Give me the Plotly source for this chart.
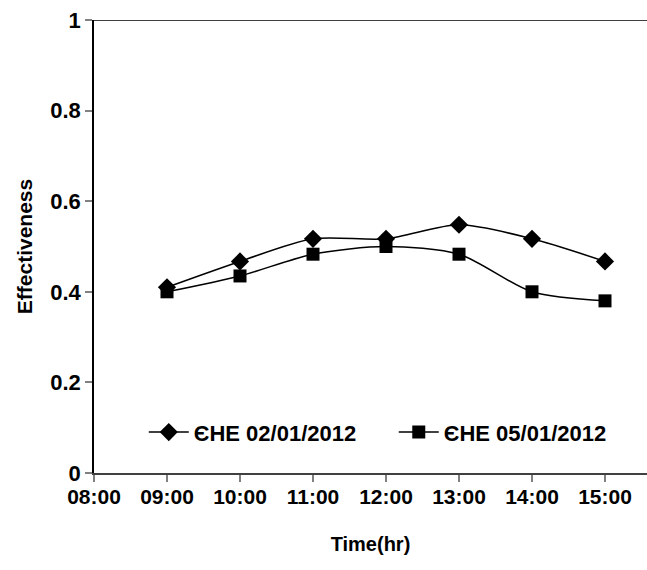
import plotly.graph_objects as go

# Hours of the day (08:00 .. 15:00) and measured effectiveness
hours = [9, 10, 11, 12, 13, 14, 15]
tick_hours = [8, 9, 10, 11, 12, 13, 14, 15]
tick_labels = ["08:00", "09:00", "10:00", "11:00", "12:00", "13:00", "14:00", "15:00"]
y_ticks = [0, 0.2, 0.4, 0.6, 0.8, 1]
y_tick_labels = ["0", "0.2", "0.4", "0.6", "0.8", "1"]

che_0201 = [0.41, 0.467, 0.517, 0.517, 0.548, 0.517, 0.467]
che_0501 = [0.40, 0.435, 0.483, 0.50, 0.483, 0.40, 0.38]

name_0201 = "ЄHE 02/01/2012"
name_0501 = "ЄHE 05/01/2012"

FONT = "Liberation Sans, Arial, sans-serif"


def bold(s):
    return "<b>%s</b>" % s


fig = go.Figure()
fig.add_trace(go.Scatter(
    x=hours, y=che_0201, name=bold(name_0201), mode="lines+markers",
    line=dict(color="black", width=1.5, shape="spline", smoothing=0.8),
    marker=dict(symbol="diamond", size=14, color="black"),
))
fig.add_trace(go.Scatter(
    x=hours, y=che_0501, name=bold(name_0501), mode="lines+markers",
    line=dict(color="black", width=1.5, shape="spline", smoothing=0.8),
    marker=dict(symbol="square", size=13, color="black"),
))

# top border of the plot area
fig.add_shape(type="line", xref="paper", yref="y", x0=0, x1=1, y0=1, y1=1,
              line=dict(color="black", width=1.5))

fig.update_layout(
    width=647, height=570,
    margin=dict(l=94, r=0, t=20, b=97),
    plot_bgcolor="white", paper_bgcolor="white",
    font=dict(family=FONT, size=21, color="black"),
    showlegend=True,
    legend=dict(
        orientation="h", x=0.09, xanchor="left", y=0.09, yanchor="middle",
        bgcolor="rgba(0,0,0,0)", font=dict(family=FONT, size=22, color="black"),
        entrywidth=195, itemwidth=40,
    ),
)

fig.update_xaxes(
    range=[8, 8 + 553 / 73], tickmode="array", tickvals=tick_hours,
    ticktext=[bold(t) for t in tick_labels],
    showgrid=False, zeroline=False, showline=True, linecolor="#404040", linewidth=1.5,
    ticks="outside", ticklen=7, tickcolor="#808080", tickwidth=1.5,
    ticklabelstandoff=-3,
    tickfont=dict(family=FONT, size=21, color="black"),
    title=dict(text=bold("Time(hr)"), font=dict(family=FONT, size=20, color="black"), standoff=30),
)
fig.update_yaxes(
    range=[0, 1], tickmode="array", tickvals=y_ticks,
    ticktext=[bold(t) for t in y_tick_labels],
    showgrid=False, zeroline=False, showline=True, linecolor="black", linewidth=1.5,
    ticks="outside", ticklen=7, tickcolor="#808080", tickwidth=1.5,
    tickfont=dict(family=FONT, size=22, color="black"),
    title=dict(text=bold("Effectiveness"), font=dict(family=FONT, size=21, color="black"), standoff=12),
)

fig.write_html("out.html")
